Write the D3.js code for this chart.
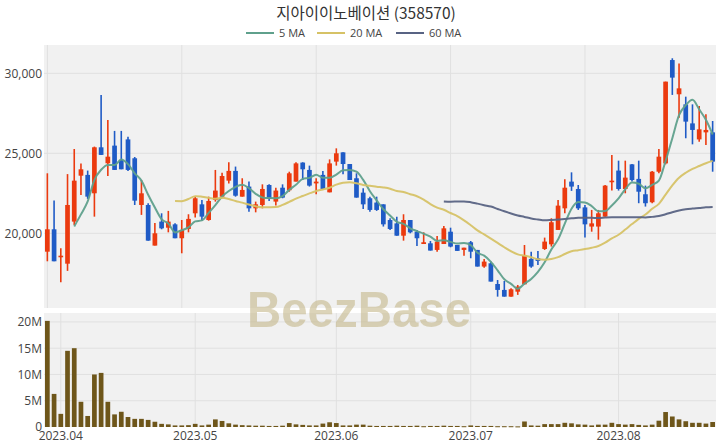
<!DOCTYPE html>
<html>
<head>
<meta charset="utf-8">
<script src="https://cdn.jsdelivr.net/npm/d3@7"></script>
<style>
  html, body { margin: 0; padding: 0; background: #ffffff; }
  svg { display: block; }
</style>
</head>
<body>
<svg id="chart" width="720" height="448"></svg>
<script>
// ---------- DATA ----------
const chartTitle = "지아이이노베이션 (358570)";
const maLabels = ["5 MA", "20 MA", "60 MA"];
const maPeriods = [5, 20, 60];

const openPrices = [
  18850,20250,18500,18100,20730,23600,23650,22500,25375,24375,
  25480,24580,25870,24690,21770,21770,19230,20730,20350,20560,
  19690,20270,21250,21810,20830,22080,22290,23290,23900,22290,
  22920,21560,21770,23020,21980,22850,22690,23230,24420,23960,
  23120,23650,22560,24480,25060,24330,23440,22540,22190,21920,
  21810,20830,20620,19850,20830,20100,19330,19375,18960,19330,
  20100,19270,18960,19440,18960,17920,18125,16830,16460,16040,
  16350,16810,18400,18440,19020,19310,20210,21560,23230,22770,
  21620,20420,20420,21040,23190,23920,22770,24310,23400,22440,
  21940,23850,24370,30830,28690,28060,26870,25870,26310,26310
];
const highPrices = [
  23750,22050,19060,23700,25270,24370,23920,25420,28650,27080,
  26400,26400,26040,24770,23330,21875,20650,21250,21400,20620,
  20830,21190,22290,22080,22290,23960,23790,24440,24170,23440,
  23230,21980,23060,23060,22850,23060,23850,24440,24440,24230,
  23440,23900,24620,25310,25060,24330,23750,22810,22290,22290,
  21810,20940,21040,21190,20830,20210,20060,19520,19830,20460,
  20350,19270,19100,19520,18960,18400,18230,17080,17020,16560,
  16770,19270,18850,18900,19730,20940,22080,23375,23810,23020,
  21770,21460,21460,23020,24900,24540,24540,24330,24540,22980,
  23900,25270,29480,30940,30620,28540,28060,27960,27440,27020
];
const lowPrices = [
  18250,18250,16940,17650,20520,22400,22150,21040,24900,23580,
  23960,24000,23900,21770,21150,19540,19230,20250,20060,19690,
  18750,20060,20980,20790,20790,21980,22190,23120,22290,22290,
  21350,21310,21560,22020,21730,22190,22600,23230,23330,22920,
  22440,22750,22560,24230,23690,23330,22230,21520,21350,21400,
  20420,20210,19850,19540,20000,19210,19330,18920,18850,19330,
  19125,18900,18600,18440,17920,17850,16980,16040,16040,16040,
  16150,16810,17850,18020,18960,19170,20210,21250,22650,21460,
  19730,20100,19600,21040,22670,22670,22500,23230,21880,21670,
  21880,23750,24310,28650,27230,25940,25560,25730,25520,23850
];
const closePrices = [
  20250,18250,18600,21770,23290,24000,22290,25375,24900,24790,
  23960,24000,23960,22040,22500,19540,20000,20310,20730,19690,
  20210,20900,22190,21040,22020,22670,23580,23900,22350,22710,
  21560,21810,22770,22150,22670,22230,23750,24370,24000,22980,
  23230,22770,24370,25000,24330,23330,22230,21810,21460,21460,
  20560,20270,19850,20830,20060,19690,19440,18920,19480,20310,
  19170,18900,19100,18850,17920,18230,16980,16460,16040,16500,
  16670,18600,17920,18270,19480,20690,21730,22850,22920,21560,
  20560,20620,21250,22980,23290,22770,23480,23330,22600,21880,
  23850,24790,29480,29730,29060,26980,26460,26500,26460,24480
];
const volumes = [
  20200000,6300000,2500000,14500000,15000000,4800000,2100000,10000000,10300000,4800000,
  2400000,2900000,1900000,1550000,1550000,1350000,1000000,600000,500000,300000,
  300000,350000,600000,300000,450000,1450000,1150000,700000,450000,350000,
  300000,250000,250000,200000,200000,250000,750000,500000,400000,300000,
  300000,650000,900000,750000,300000,300000,450000,450000,250000,200000,
  200000,200000,250000,200000,200000,250000,150000,200000,200000,250000,
  200000,200000,150000,300000,200000,200000,200000,150000,150000,150000,
  120000,1050000,300000,250000,550000,550000,550000,800000,700000,500000,
  450000,300000,450000,450000,800000,550000,450000,550000,400000,300000,
  450000,1200000,2850000,2000000,1450000,1100000,800000,800000,650000,950000
];
const priceTicks = [20000, 25000, 30000];
const volumeTicks = [0, 5000000, 10000000, 15000000, 20000000];
const volumeTickLabels = ["0", "5M", "10M", "15M", "20M"];
const priceGridIndex = [0, 20, 40, 60, 80];
const monthTickIndex = [2, 22, 43, 63, 85];
const monthTickLabels = ["2023.04", "2023.05", "2023.06", "2023.07", "2023.08"];

// ---------- STYLE ----------
const upColor = "#eb3a0f";
const downColor = "#1f5bc6";
const maColors = ["#5fa08c", "#d6c266", "#586383"];
const volColor = "#6e561a";
const bgColor = "#f1f1f1";
const gridColor = "#e0e0e0";
const axisFont = "'Open Sans', 'DejaVu Sans', sans-serif";

const svg = d3.select("#chart");
const plotLeft = 44, plotRight = 716;
const priceTop = 45, priceBottom = 308;
const volTop = 313, volBottom = 427;

const n = closePrices.length;
const idx = d3.range(n);

const x = d3.scaleBand().domain(idx).range([plotLeft, plotRight]).paddingInner(0.3).paddingOuter(0.15);
const xc = i => x(i) + x.bandwidth() / 2;
const yP = d3.scaleLinear().domain([15330, 31770]).range([priceBottom, priceTop]);
const yV = d3.scaleLinear().domain([0, 21700000]).range([volBottom, volTop]);

// backgrounds
svg.append("rect").attr("x", plotLeft).attr("y", priceTop).attr("width", plotRight - plotLeft)
  .attr("height", priceBottom - priceTop).attr("fill", bgColor);
svg.append("rect").attr("x", plotLeft).attr("y", volTop).attr("width", plotRight - plotLeft)
  .attr("height", volBottom - volTop).attr("fill", bgColor);

// price grid
const gP = svg.append("g");
gP.selectAll("line.h").data(priceTicks).join("line")
  .attr("x1", plotLeft).attr("x2", plotRight)
  .attr("y1", d => yP(d)).attr("y2", d => yP(d))
  .attr("stroke", gridColor).attr("stroke-width", 1);
gP.selectAll("line.v").data(priceGridIndex).join("line")
  .attr("x1", d => xc(d)).attr("x2", d => xc(d))
  .attr("y1", priceTop).attr("y2", priceBottom)
  .attr("stroke", gridColor).attr("stroke-width", 1);

// volume grid
const gV = svg.append("g");
gV.selectAll("line.h").data(volumeTicks.slice(1)).join("line")
  .attr("x1", plotLeft).attr("x2", plotRight)
  .attr("y1", d => yV(d)).attr("y2", d => yV(d))
  .attr("stroke", gridColor).attr("stroke-width", 1);
gV.selectAll("line.v").data(monthTickIndex).join("line")
  .attr("x1", d => xc(d)).attr("x2", d => xc(d))
  .attr("y1", volTop).attr("y2", volBottom)
  .attr("stroke", gridColor).attr("stroke-width", 1);

// y axis (price)
const axP = d3.axisLeft(yP).tickValues(priceTicks).tickFormat(d3.format(",")).tickSize(0).tickPadding(2);
const gAxP = svg.append("g").attr("transform", `translate(${plotLeft},0)`).call(axP);
gAxP.select(".domain").remove();
gAxP.selectAll("text").attr("font-family", axisFont).attr("font-size", 12).attr("fill", "#444");

// y axis (volume)
const axV = d3.axisLeft(yV).tickValues(volumeTicks).tickFormat((d, i) => volumeTickLabels[i]).tickSize(0).tickPadding(2);
const gAxV = svg.append("g").attr("transform", `translate(${plotLeft},0)`).call(axV);
gAxV.select(".domain").remove();
gAxV.selectAll("text").attr("font-family", axisFont).attr("font-size", 12).attr("fill", "#444");

// x axis (month labels)
const axX = d3.axisBottom(x).tickValues(monthTickIndex).tickFormat((d, i) => monthTickLabels[i]).tickSize(0).tickPadding(4);
const gAxX = svg.append("g").attr("transform", `translate(0,${volBottom})`).call(axX);
gAxX.select(".domain").remove();
gAxX.selectAll("text").attr("font-family", axisFont).attr("font-size", 12).attr("fill", "#444");

// volume bars
svg.append("g").selectAll("rect").data(idx).join("rect")
  .attr("x", i => x(i)).attr("width", x.bandwidth())
  .attr("y", i => yV(volumes[i])).attr("height", i => Math.max(1, yV(0) - yV(volumes[i])))
  .attr("fill", volColor);

// candles
const gC = svg.append("g");
gC.selectAll("line").data(idx).join("line")
  .attr("x1", i => xc(i)).attr("x2", i => xc(i))
  .attr("y1", i => yP(highPrices[i])).attr("y2", i => yP(lowPrices[i]))
  .attr("stroke", i => closePrices[i] >= openPrices[i] ? upColor : downColor)
  .attr("stroke-width", 1.6);
gC.selectAll("rect").data(idx).join("rect")
  .attr("x", i => x(i)).attr("width", x.bandwidth())
  .attr("y", i => yP(Math.max(openPrices[i], closePrices[i])))
  .attr("height", i => Math.max(1.5, Math.abs(yP(openPrices[i]) - yP(closePrices[i]))))
  .attr("fill", i => closePrices[i] >= openPrices[i] ? upColor : downColor);

// moving averages
maPeriods.forEach((p, k) => {
  const pts = [];
  for (let i = p - 1; i < n; i++) {
    pts.push([i, d3.mean(closePrices.slice(i - p + 1, i + 1))]);
  }
  const line = d3.line().x(d => xc(d[0])).y(d => yP(d[1])).curve(d3.curveMonotoneX);
  svg.append("path").attr("d", line(pts)).attr("fill", "none")
    .attr("stroke", maColors[k]).attr("stroke-width", 2).attr("stroke-opacity", 0.95);
});

// watermark
svg.append("text").attr("x", 359).attr("y", 327).attr("text-anchor", "middle")
  .attr("font-family", "'Liberation Sans', Arial, sans-serif").attr("font-weight", "bold")
  .attr("font-size", 50).attr("textLength", 224).attr("lengthAdjust", "spacingAndGlyphs")
  .attr("fill", "#c4b88a").attr("fill-opacity", 0.6).text("BeezBase");

// title
svg.append("text").attr("x", 366).attr("y", 19).attr("text-anchor", "middle")
  .attr("font-family", "'Noto Sans CJK KR', 'Noto Sans', sans-serif").attr("font-size", 15.5)
  .attr("fill", "#333").text(chartTitle);

// legend
const legendX = [246, 317, 396];
const gL = svg.append("g");
maLabels.forEach((lab, k) => {
  gL.append("line").attr("x1", legendX[k]).attr("x2", legendX[k] + 28)
    .attr("y1", 33).attr("y2", 33).attr("stroke", maColors[k]).attr("stroke-width", 2);
  gL.append("text").attr("x", legendX[k] + 33).attr("y", 37)
    .attr("font-family", axisFont).attr("font-size", 11).attr("fill", "#444").text(lab);
});
</script>
</body>
</html>
